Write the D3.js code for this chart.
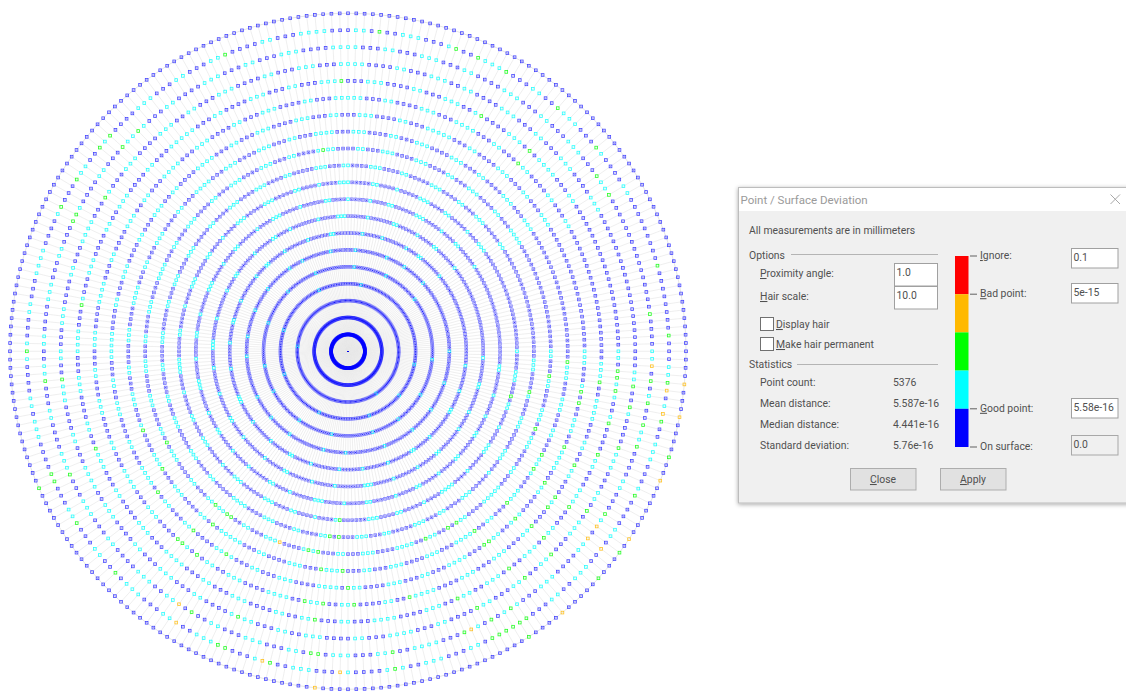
<!DOCTYPE html>
<html>
<head>
<meta charset="utf-8">
<script src="https://cdn.jsdelivr.net/npm/d3@7"></script>
<style>
  html, body { margin: 0; padding: 0; background: #fff; overflow: hidden; }
  text { font-family: Roboto, "Noto Sans", sans-serif; font-size: 10.4px; fill: #505050; }
</style>
</head>
<body>
<div id="chart"></div>
<script>
// 21 rings of 256 points each, ring 0 sits on the centre
var ringCount = 20;
var spokeCount = 256;

// b = on surface..good point, c = good point band, read ring by ring going clockwise from east
var ringStates = [
  "",
  "",
  "",
  "bbbbbbbbbbbbbbbbbbbbbbbbbbbbbbbbbbbbbbbbcbbbbbbbbbbbbbbbbbbbbbbbbbbbbbbbbbbbbbbbbbbbbbbbbbbbbbbbbbbbbbbbbbbbbbbbbbbbbbbbbbbbbbbbbbbbcbbbbbbbbbbbbbbbbbbbbbbbbbbbbbbbbbbbbbbbbbbbbbbbbbbbbbbbbbbbbbbbbbbbbbbbbbbbbbbbbbbbbbbbbbbbbbbbbbb",
  "bbbbbbbbcbbbbbbbbbbbbbbbbbbbbcbbbbbbbbbbbbbbbbbbbbbcbbbbbbbbbbbbbbbbbbbbbbbbbbbbbbcbbbbbbbbbbbbbbbbbbbbbbbbbbbbbbbcbbbbbbbbbbbbbbbbbbbbbbbbbbcbbbbbbbbbbbbbbbbbbbbbbbbbbbbbbbbcbbbbbbbbbbbbbbbbbbbbbbbbbcbbbbbbbbbbbbbbbbbbbbbbbbbbbbbbbbb",
  "bbbbcbbbbbbbbbbbbbbbbbcbbbbbbbbbbbbbbbcbbbbbbbbbbbbbcbbbbbbbbbbbbbbbbbbbcbbbbbbbbbbbbbbbbcbbbbbbbbbbbbbbbbbbcbbbbbbbbbbbbcbbbbbbbbbbbbbbbbbbbbcbbbbbbbbbbbbbbbbbcbbbbbbbbbbbbbbbcbbbbbbbbbbbbbbbbbbcbbbbbbbbbbbbbbbcbbbbbbbbbbbbbbbbbcbbb",
  "cbbbbbbbbbbbbcbbbbbbbbbbbcbbbbbbbbbbcbbbbbbbbbbbbcbbbbbbbbbbbbbbbcbbbbbbbbcbbbbbbbbbbbbbbcbbbbbbbbbcbbbbbbbbbcbbbbbbbbbbbbbbbbcbbbbbbbcbbbbbbbbbbcbbbbbbbbbcbbbbbbbbbbbcbbbbbcbbbbbbbbbbbcbbbbbbbbbcbbbbbbbbbbbbcbbbbbbbcbbbbbbbbbcbbbbbbb",
  "bbbbbcbbbbbbbbcbbbbbbccbbbbbbbbbbcbbbbbbccbbbbbbbbcbbbbbbbbcbbbbbbbcbbbbbbbbbcbbbbbbccbbbbbbbcbbbbbbbbcbbbbbbbcccbbbbbbbbbcbbbbbbbbcbbbbbbccbbbbbbcbbbbbbbbbcbbbbccbbbbbbcbbbbbbbbcbbbbbbbccbbbbbbbbbcbbbbbbcbbbbbbbbcbbbbccbbbbbbbbcbbbbb",
  "bbcbbbbbbbccbbbbbbbcbbbbbcbbbbbbbbccbbbbbbcbbbbbbbcbbbbbbcccbbbbbbbbcbbbbbbcbbbbbbbccbbbbbbcbbbbbbbbcbbbbbccbbbbbbbcbbbbbbbcbbbbbcccbbbbbbcbbbbbbbbcbbbbccbbbbbbbcbbbbbbccbbbbcbbbbbbbbcbbbbbcccbbbbbbcbbbbbbbccbbbbbbcbbbbbccbbbbbbbcbbb",
  "bbbbccbbbbbbcbbbbbcbbbbccbbbbbbccbbbbbcbbbbbccbbbbbcbbbbbbccbbbbbcbbbbbcccbbbbbbcbbbbccbbbbbbcbbbbbcbbbbbccbbbbcbbbbbbcccbbbbbcbbbbbccbbbbcbbbbbbcccbbbbbcbbbbccbbbbbbcbbbbcccbbbbbcbbbbbbccbbbbcbbbbbcbbbbccbbbbbbcccbbbbbcbbbbccbbbbbbc",
  "cbbbbcccbbbbbccbbbbcbbbbcccbbbbbcbbbbccccbbbbcbbbbbccbbbbcccbbbbbbccbbbbcbbbbccbbbbcccbbbbbbcccbbbcbbbbbcccbbbbccbbbbbcbbbbccccbbbbbccbbbbbcbbbbcccbbbbbccbbbbcbbbbcccbbbbbcccbbbbbccbbbbcbbbbcccbbbbbccbbbbcbbbbbcccbbbbccbbbbbcbbbcccbbbb",
  "bbcccbbbbccbbbbcccbbbbbcccbbbcbbbbbcccbbbbccbbbcccbbbbbccbbbcccbbbbbcccbbbbccbbbbcccbbbbccccbbbbbccbbbbcccbbbbbcccbbbccbbbbbccbbbbcccbbbbbccbbbcccbbbbcccbbbbbccbbbbcccbbbbcccbbbbccbbbbbcccbbbccbbbbcccbbbbccbbbbbcccbbbbccbbbcccbbbbbccbb",
  "ccbbbcccbbbbcccbbbcccbbbbccbbbcccccbbbbcccbbbbccbbbccccbbbbcccbbbccbbbbcccbbbbbcccbbbccbbbbcccccbbbccbbbbcccbbbccbbbbcccbbbbcccbbbccbbbbcccbbbbccccbbbccbbbcccbbbbccbbbcccbbbbcccbbbccbbbbccccbbbbccbbbcccbbbbcccbbbbccbbbcccbbbbccbbbccccb",
  "bbccccbbbcccbbbccbbbbccccbbbcccbbbbccbbbccccbbbcccbbbbcccbbbccbbbbccccbbbcccbbbbccbbbcccccbbbccbbbbcccbbbccccbbbbccbbbcccbbbccbbbbcccbbbbccccbbbccbbbcccbbbbccbbbccccbbbcccbbbbcccbbbccbbbccccbbbcccbbbbccbbbcccbbbbcccbbbccbbbbcccbbbcccbb",
  "cccbbbccbbbbcccbbbccccbbbccbbbbcccbbcccbbbbccccbbbccbbbcccbbbbccbbccccbbbbcccbbbccbbbccccbbbbcccbbbccbbbccccbbbccbbbbcccbbccbbbcccccbbbbccbbbcccbbbbccbbbcccbbccbbbbccccbbbccbbbcccbbbbcccbbbccbbbcccbbbbccbbbcccccbbbccbbbbcccbbbccbbbcccb",
  "bbcccbbbccccbbbccbbcccbbbbccbbbcccbbbcccbbbcccbbbbccccbbbccbbbbcccbbbccbbbccccbbbbcccbbccbbbcccbbbbcccbbbccccbbbccbbbbcccbbbccbbbcccbbbbccccbbbccbbbbcccbbccbbbccccbbbcccbbbbccbbbcccbbbbccbbbcccccbbbccbbbbcccbbbccccbbbccbbbcccbbbbccbbbcc",
  "ccbbbcccbbccbbbbcccbbbccccbbbccbbcccbbbbcccbbccbbbcccbbbbccccbbbccbbbcccbbccbbbbcccbbbccbbbccccbbbcccbbbbccbbbcccbbbccbbbbcccbbbccccbbbccbbbcccbbbbccbbcccbbbbccbbbcccccbbbccbbbbcccbbbccbbbccccbbbcccbbbbccbbbcccbbccbbbbcccbbbccccbbbccbbb",
  "bbbcccbbccbbbbccccbbbccbbbcccbbbbccbbcccbbbcccbbbbccbbbccccbbbccbbbbcccbbccbbbccccbbbbccbbbcccbbbccbbbbcccbbccccbbbccbbbbcccbbbccbbbcccbbbbccbbbccccbbbccbbbcccbbbbcccbbccbbbcccbbbbccbbbcccbbbccccbbbbccbbbcccbbccbbbbcccbbbccbbbcccbbbbccc",
  "cccbbbccbbbcccbbbbccbbbcccbbccbbbbcccbbbcccbbbccbbbbccccbbbccbbbcccbbbbccbbbcccbbbccbbbbcccbbcccbbbbccbbbcccbbbccccbbbbccbbbcccbbccbbbbcccbbbccbbbcccbbbbccbbbcccccbbbccbbbbcccbbbccbbbcccbbbbccccbbbccbbbcccbbbccbbbbcccbbbccbbbcccbbbbcccb",
  "bbcccbbccbbbcccbbbccbbbbccbbbbcccbbccbbbcccbbbbccbbbcccbbcccbbbbccbbbcccbbbccbbbbccccbbbccbbbcccbbbbccbbbcccbbbccbbbbcccbccbbbbcccbbbccbbbccccbbbbccbbbcccbbbccbbbbcccbbbccbbbcccbbbbccbbbccccbbbccbbbbcccbbbccbbbcccbbbbccbbbcccbbbccbbbbccb"
];

// points that read as the green band, [ring, spoke]
var greenPoints = [
  [13,2],[12,5],[16,3],[16,4],[15,5],[18,4],[19,4],[17,5],[16,6],[14,7],[10,11],[11,9],[14,9],[18,7],[17,8],
  [19,9],[18,10],[16,11],[12,16],[17,14],[18,13],[14,17],[13,20],[16,16],[20,13],[15,19],[13,23],[14,24],[15,25],
  [19,19],[13,31],[15,27],[16,25],[17,24],[18,23],[14,32],[15,31],[12,41],[12,43],[13,39],[16,31],[12,48],[14,38],
  [14,39],[17,32],[20,26],[16,38],[17,37],[20,30],[15,54],[16,47],[17,45],[18,41],[18,44],[19,40],[19,41],[18,48],
  [19,42],[19,43],[19,44],[19,45],[20,41],[18,58],[19,58],[14,64],[15,63],
  [19,128],[18,124],[17,124],[13,113],[12,109],[16,113],[13,105],[19,112],[18,111],[19,111],[20,111],[14,102],
  [12,93],[12,90],[12,89],[13,91],[19,105],[14,93],[15,94],[15,93],[15,90],[14,86],[19,97],[10,66],[11,68],[11,66],
  [12,72],[12,70],[13,69],[13,65],[15,71],[15,68],[16,69],[17,80],[18,86],[19,81],[19,80],[19,74],[18,69],[18,68],
  [16,135],[18,146],[18,147],[19,147],[17,151],[19,151],[19,156],[18,158],[19,158],[18,161],[19,176],[12,187],[16,191],
  [19,196],[19,206],[19,209],[19,213],[19,221],[16,213],[19,228],[16,222],[15,222],[18,231],[18,234],[19,245],[18,251],[19,254]
];

// points that read as the orange band, [ring, spoke]
var orangePoints = [
  [18,2],[20,4],[19,5],[19,8],[20,8],[20,16],[18,25],[18,27],[20,24],[19,27],[20,36],[18,47],
  [12,78],[18,88],[19,87],[19,75],[19,65],[20,68]
];

// scale readout on the dialog, top to bottom
var bandColors = ["#ff0000", "#ffb900", "#00ff00", "#00ffff", "#0000ff"];
var bandLabels = ["Ignore:", "Bad point:", "Good point:", "On surface:"];
var bandValues = ["0.1", "5e-15", "5.58e-16", "0.0"];
var bandStops = [0, 1, 4, 5];

var statLabels = ["Point count:", "Mean distance:", "Median distance:", "Standard deviation:"];
var statValues = ["5376", "5.587e-16", "4.441e-16", "5.76e-16"];

var optionLabels = ["Proximity angle:", "Hair scale:"];
var optionValues = ["1.0", "10.0"];
var checkLabels = ["Display hair", "Make hair permanent"];

var width = 1126, height = 692;
var cx = 348, cy = 351.3, outerRadius = 338;

var svg = d3.select("#chart").append("svg")
    .attr("width", width)
    .attr("height", height)
    .style("display", "block");

var rScale = d3.scaleLinear().domain([0, ringCount]).range([0, outerRadius]);
var angleScale = d3.scaleLinear().domain([0, spokeCount]).range([Math.PI / 2, Math.PI * 2.5]);

var colorOf = { b: bandColors[4], c: bandColors[3], g: bandColors[2], o: bandColors[1] };

// state of every point
var overrides = {};
greenPoints.forEach(function(d) { overrides[d[0] + "_" + d[1]] = "g"; });
orangePoints.forEach(function(d) { overrides[d[0] + "_" + d[1]] = "o"; });

var points = [];
d3.range(ringCount + 1).forEach(function(ring) {
    var states = ringStates[ring] || "";
    d3.range(spokeCount).forEach(function(spoke) {
        var state = overrides[ring + "_" + spoke] || states[spoke] || "b";
        points.push({ ring: ring, spoke: spoke, state: state, pos: d3.pointRadial(angleScale(spoke), rScale(ring)) });
    });
});

var defs = svg.append("defs");
var soft = defs.append("filter").attr("id", "soft")
    .attr("filterUnits", "userSpaceOnUse")
    .attr("x", 0).attr("y", 0).attr("width", width).attr("height", height);
soft.append("feGaussianBlur").attr("stdDeviation", 0.3);

var plot = svg.append("g")
    .attr("filter", "url(#soft)")
    .append("g")
    .attr("transform", "translate(" + cx + "," + cy + ")");

// hair lines from the centre out to the last ring
plot.selectAll("line.spoke")
    .data(d3.range(spokeCount))
    .enter().append("line")
    .attr("class", "spoke")
    .attr("x1", 0).attr("y1", 0)
    .attr("x2", function(d) { return d3.pointRadial(angleScale(d), rScale(ringCount))[0]; })
    .attr("y2", function(d) { return d3.pointRadial(angleScale(d), rScale(ringCount))[1]; })
    .attr("stroke", "#e8e8e8")
    .attr("stroke-width", 0.7);

plot.append("circle")
    .attr("r", rScale(ringCount))
    .attr("fill", "none")
    .attr("stroke", "#e6e6e6")
    .attr("stroke-width", 1);

var rings = points.filter(function(d) { return d.ring > 0; });
var markerSize = 2.7;

// the dense inner rings wash out to a pale halo, the sparse outer markers stay strong
var outlineOpacity = d3.scaleLinear().domain([1, 3, 10, 16]).range([0.5, 0.3, 0.52, 0.72]).clamp(true);
var coreOpacity = d3.scaleLinear().domain([1, 3, 10, 16]).range([0.9, 0.9, 0.85, 0.35]).clamp(true);

plot.selectAll("rect.point")
    .data(rings)
    .enter().append("rect")
    .attr("class", "point")
    .attr("x", function(d) { return d.pos[0] - markerSize / 2; })
    .attr("y", function(d) { return d.pos[1] - markerSize / 2; })
    .attr("width", markerSize)
    .attr("height", markerSize)
    .attr("fill", "none")
    .attr("stroke", function(d) { return colorOf[d.state]; })
    .attr("stroke-width", 0.8)
    .attr("stroke-opacity", function(d) { return d.state == "b" ? outlineOpacity(d.ring) : 0.85; });

// blue markers resample with a darker middle, this is what makes the inner rings dark
plot.selectAll("rect.core")
    .data(points.filter(function(d) { return d.state == "b"; }))
    .enter().append("rect")
    .attr("class", "core")
    .attr("x", function(d) { return d.pos[0] - 0.5; })
    .attr("y", function(d) { return d.pos[1] - 0.5; })
    .attr("width", 1)
    .attr("height", 1)
    .attr("fill", bandColors[4])
    .attr("fill-opacity", function(d) { return d.ring == 0 ? 0.01 : coreOpacity(d.ring); });

// ---- dialog ----
var shadow = defs.append("filter").attr("id", "shadow").attr("x", "-5%").attr("y", "-5%").attr("width", "110%").attr("height", "110%");
shadow.append("feDropShadow").attr("dx", 0).attr("dy", 1).attr("stdDeviation", 2).attr("flood-color", "#000").attr("flood-opacity", 0.35);

var dlg = svg.append("g");

dlg.append("rect")
    .attr("x", 738.5).attr("y", 187.5).attr("width", 400).attr("height", 315.5)
    .attr("fill", "#f0f0f0").attr("stroke", "#bdbdbd")
    .attr("filter", "url(#shadow)");
dlg.append("rect")
    .attr("x", 739).attr("y", 188).attr("width", 400).attr("height", 23)
    .attr("fill", "#ffffff");

function label(x, y, str, underline) {
    var t = dlg.append("text").attr("x", x).attr("y", y);
    if (underline) {
        t.append("tspan").style("text-decoration", "underline").text(str[0]);
        t.append("tspan").text(str.slice(1));
    } else {
        t.text(str);
    }
    return t;
}

label(740.5, 204, "Point / Surface Deviation").style("fill", "#9a9a9a").style("font-size", "11.5px");
dlg.append("path").attr("d", "M1110.5 194.5L1120 204M1120 194.5L1110.5 204").attr("stroke", "#a8a8a8").attr("fill", "none");

label(749, 234, "All measurements are in millimeters");

label(749, 258.5, "Options");
dlg.append("line").attr("x1", 791).attr("x2", 938).attr("y1", 254.5).attr("y2", 254.5).attr("stroke", "#b4b4b4");
label(749, 368, "Statistics");
dlg.append("line").attr("x1", 797).attr("x2", 938).attr("y1", 364.5).attr("y2", 364.5).attr("stroke", "#b4b4b4");

function inputBox(x, y, w, h, val, disabled) {
    dlg.append("rect").attr("x", x + .5).attr("y", y + .5).attr("width", w).attr("height", h)
        .attr("fill", disabled ? "#f0f0f0" : "#fff")
        .attr("stroke", disabled ? "#a8a8a8" : "#a0a0a0");
    label(x + 2.5, y + 12.5, val);
}

var optionY = d3.scalePoint().domain(optionLabels).range([277, 300]);
optionLabels.forEach(function(d, i) {
    label(760, optionY(d), d, true);
    inputBox(894, optionY(d) - 14, 43, 22.5, optionValues[i]);
});

var checkY = d3.scalePoint().domain(checkLabels).range([317, 337]);
checkLabels.forEach(function(d) {
    dlg.append("rect").attr("x", 760.5).attr("y", checkY(d) + .5).attr("width", 13).attr("height", 13)
        .attr("fill", "#fff").attr("stroke", "#707070");
    label(776, checkY(d) + 11, d, true);
});

var statY = d3.scalePoint().domain(statLabels).range([386, 449]);
statLabels.forEach(function(d, i) {
    label(760, statY(d), d);
    label(893, statY(d), statValues[i]);
});

// colour scale
var barY = d3.scaleLinear().domain([0, bandColors.length]).range([256, 447]);
dlg.selectAll("rect.band")
    .data(bandColors)
    .enter().append("rect")
    .attr("class", "band")
    .attr("x", 955).attr("width", 13.5)
    .attr("y", function(d, i) { return barY(i); })
    .attr("height", function(d, i) { return barY(i + 1) - barY(i); })
    .attr("fill", function(d) { return d; });

var valueY = [248, 283, 398, 435];
var underlineLabel = [true, true, true, false];
bandLabels.forEach(function(d, i) {
    var y = barY(bandStops[i]);
    dlg.append("line").attr("x1", 970).attr("x2", 977).attr("y1", y).attr("y2", y).attr("stroke", "#606060");
    label(980, y + 3, d, underlineLabel[i]);
    inputBox(1071, valueY[i], 46.5, 19.5, bandValues[i], i == 3);
});

// buttons
[["Close", 850], ["Apply", 940]].forEach(function(b) {
    dlg.append("rect").attr("x", b[1] + .5).attr("y", 468.5).attr("width", 65.5).attr("height", 21.5)
        .attr("fill", "#e1e1e1").attr("stroke", "#adadad");
    label(b[1] + 33, 483, b[0], true).attr("text-anchor", "middle");
});
</script>
</body>
</html>
